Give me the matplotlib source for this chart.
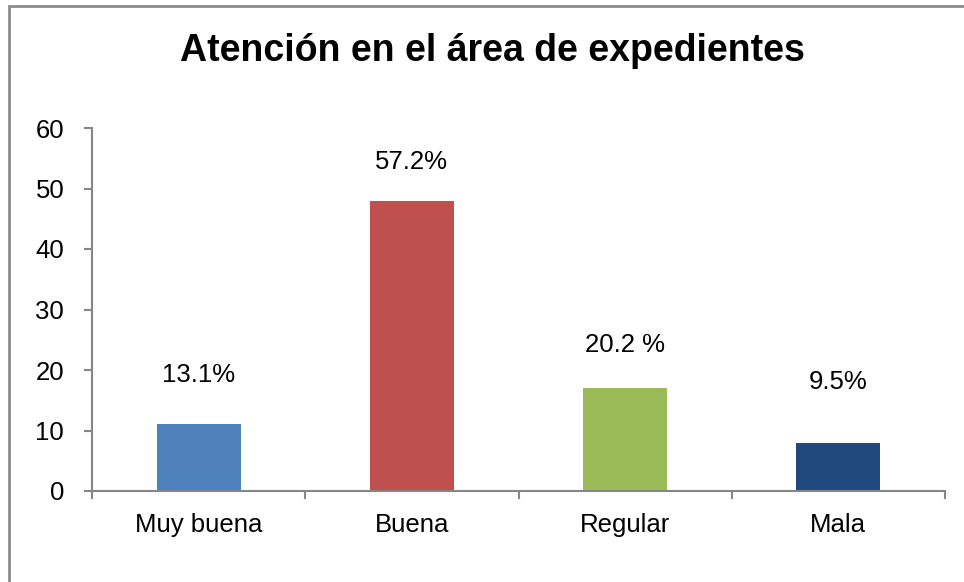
import matplotlib
matplotlib.use("Agg")
import matplotlib.pyplot as plt
from matplotlib.patches import Rectangle

categories = ["Muy buena", "Buena", "Regular", "Mala"]
values = [11, 48, 17, 8]
labels = ["13.1%", "57.2%", "20.2 %", "9.5%"]
label_y = [19.2, 54.4, 24.1, 18.0]
colors = ["#4F81BD", "#C0504D", "#9BBB59", "#1F497D"]
yticks = [0, 10, 20, 30, 40, 50, 60]

plt.rcParams['font.family'] = ['Liberation Sans', 'DejaVu Sans']
FS = 18.5

fig = plt.figure(figsize=(9.64, 5.82), dpi=100)
W, H = 964, 582
ax = fig.add_axes([92 / W, 1 - 491 / H, (945 - 92) / W, (491 - 128) / H])

x = list(range(len(categories)))
ax.bar(x, values, width=0.395, color=colors)
for xi, lab, ly in zip(x, labels, label_y):
    ax.text(xi, ly, lab, ha="center", va="center", fontsize=FS, color="black")

ax.set_xlim(-0.5, 3.5)
ax.set_ylim(0, 60)
ax.set_yticks(yticks)
ax.set_yticklabels([str(t) for t in yticks], fontsize=FS)
ax.set_xticks(x)
ax.set_xticklabels(categories, fontsize=FS)
ax.tick_params(axis="x", length=0, pad=16)
ax.set_xticks([-0.5, 0.5, 1.5, 2.5, 3.5], minor=True)
ax.tick_params(axis="x", which="minor", length=6, color="#868686", width=1.5, direction="out")
ax.tick_params(axis="y", length=6, color="#868686", width=1.5, direction="out", pad=14)

for s in ["top", "right"]:
    ax.spines[s].set_visible(False)
for s in ["left", "bottom"]:
    ax.spines[s].set_color("#868686")
    ax.spines[s].set_linewidth(1.5)

fig.text(492 / W, 1 - 51 / H, "Atención en el área de expedientes", ha="center", va="center",
         fontsize=27, fontweight="bold")

fig.patches.append(Rectangle((9 / W, -0.05), 1.1, 1 - 6 / H + 0.05, transform=fig.transFigure,
                             fill=False, edgecolor="#8c8c8c", linewidth=2))

fig.savefig("out.png", dpi=100)
